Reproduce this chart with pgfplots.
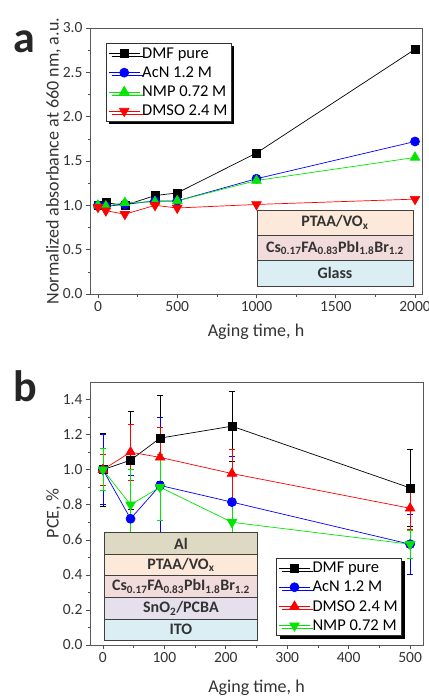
\documentclass[border=0pt]{standalone}
\usepackage{pgfplots}
\pgfplotsset{compat=1.18}
\usepackage{fontspec}
\setmainfont{Carlito}
\usetikzlibrary{shadows}
\definecolor{cAl}{RGB}{221,217,195}
\definecolor{cPT}{RGB}{253,233,217}
\definecolor{cCs}{RGB}{242,220,219}
\definecolor{cSn}{RGB}{229,224,236}
\definecolor{cIT}{RGB}{218,238,243}
\definecolor{gBlue}{RGB}{0,0,255}
\definecolor{gGreen}{RGB}{0,230,0}
\definecolor{gRed}{RGB}{255,0,0}
\tikzset{
  lyr/.style={draw=black!75, line width=0.8pt},
  ltext/.style={font=\bfseries\fontsize{16}{16}\selectfont, text=black!80},
}
\pgfplotsset{
  myax/.style={
    scale only axis,
    axis line style={black!65, line width=0.8pt},
    tick pos=left, tick align=outside, minor tick num=1,
    tick style={black!70, line width=0.6pt},
    major tick length=4pt, minor tick length=2.5pt,
    ticklabel style={font=\fontsize{15.5}{15.5}\selectfont, text=black!80},
    label style={font=\fontsize{18}{18}\selectfont, text=black!80},
    ylabel shift=-5pt,
    /pgf/number format/assume math mode=true,
    /pgf/number format/1000 sep={},
    legend cell align=left,
    legend style={font=\fontsize{16.5}{16.5}\selectfont, draw=black!80, line width=0.6pt,
      fill=white, inner sep=2pt, row sep=3pt,
      drop shadow={shadow xshift=3pt, shadow yshift=-3pt, fill=black, opacity=1}},
    legend image code/.code={\draw[mark repeat=2,mark phase=2] plot coordinates {(0cm,0cm) (0.55cm,0cm) (1.1cm,0cm)};},
    every axis plot/.append style={line width=0.7pt},
  },
  sDMF/.style={black, mark=square*, mark size=4pt, mark options={fill=black, solid}},
  sAcN/.style={gBlue, mark=*, mark size=4.5pt, mark options={fill=gBlue, solid}},
  sNMP/.style={gGreen, mark=triangle*, mark size=5.5pt, mark options={fill=gGreen, solid}},
  sNMPd/.style={gGreen, mark=triangle*, mark size=5.5pt, mark options={fill=gGreen, solid, rotate=180}},
  sDMSO/.style={gRed, mark=triangle*, mark size=5.5pt, mark options={fill=gRed, solid}},
  sDMSOd/.style={gRed, mark=triangle*, mark size=5.5pt, mark options={fill=gRed, solid, rotate=180}},
  eb/.style={error bars/.cd, y dir=both, y explicit, error bar style={line width=0.7pt}, error mark options={rotate=90, mark size=3pt, line width=0.7pt}},
}
\begin{document}
\begin{tikzpicture}
\path[use as bounding box] (0pt,0pt) rectangle (428pt,-698pt);
\node[font=\bfseries\fontsize{44}{44}\selectfont, text=black!85] at (24pt,-42pt) {a};
\node[font=\bfseries\fontsize{44}{44}\selectfont, text=black!85] at (25pt,-386pt) {b};

\begin{axis}[myax, at={(90pt,-294pt)}, anchor=south west,
  width=332pt, height=266pt,
  xmin=-50, xmax=2044, ymin=0, ymax=3,
  xtick={0,500,...,2000}, ytick={0,0.5,...,3},
  yticklabel style={/pgf/number format/.cd, fixed, fixed zerofill, precision=1},
  xlabel={Aging time, h}, xlabel style={yshift=-5pt},
  ylabel={Normalized absorbance at 660 nm, a.u.},
  legend style={at={(0.048,0.943)}, anchor=north west}]
\addplot[sDMF] coordinates {(0,1.0)(50,1.03)(170,1.0)(360,1.11)(500,1.14)(1000,1.59)(2000,2.76)};
\addlegendentry{DMF pure}
\addplot[sAcN] coordinates {(0,1.0)(50,0.99)(170,1.01)(360,1.05)(500,1.05)(1000,1.30)(2000,1.72)};
\addlegendentry{AcN 1.2 M}
\addplot[sNMP] coordinates {(0,1.0)(50,0.99)(170,1.03)(360,1.04)(500,1.05)(1000,1.28)(2000,1.54)};
\addlegendentry{NMP 0.72 M}
\addplot[sDMSOd] coordinates {(0,0.98)(50,0.94)(170,0.90)(360,1.0)(500,0.97)(1000,1.01)(2000,1.07)};
\addlegendentry{DMSO 2.4 M}
\draw[lyr, fill=cIT] (axis cs:1003,0.091) rectangle (axis cs:1987,0.374) node[midway, ltext] {Glass};
\draw[lyr, fill=cCs] (axis cs:1003,0.374) rectangle (axis cs:1987,0.665) node[midway, ltext] {Cs\textsubscript{0.17}FA\textsubscript{0.83}PbI\textsubscript{1.8}Br\textsubscript{1.2}};
\draw[lyr, fill=cPT] (axis cs:1003,0.665) rectangle (axis cs:1987,0.948) node[midway, ltext] {PTAA/VO\textsubscript{x}};
\end{axis}

\begin{axis}[myax, at={(90pt,-645pt)}, anchor=south west,
  width=333pt, height=263pt,
  xmin=-21, xmax=521, ymin=0, ymax=1.5,
  xtick={0,100,...,500}, ytick={0,0.2,...,1.4},
  yticklabel style={/pgf/number format/.cd, fixed, fixed zerofill, precision=1},
  xlabel={Aging time, h}, xlabel style={yshift=-10pt},
  ylabel={PCE, \%},
  legend style={at={(0.937,0.034)}, anchor=south east}]
\addplot[sDMF, eb] coordinates {(0,1.0) +- (0,0.21) (45,1.054) +- (0,0.28) (93,1.18) +- (0,0.245) (210,1.248) +- (0,0.20) (500,0.896) +- (0,0.22)};
\addlegendentry{DMF pure}
\addplot[sAcN, eb] coordinates {(0,1.0) +- (0,0.20) (45,0.72) +- (0,0.25) (93,0.91) +- (0,0.39) (210,0.815) +- (0,0.26) (500,0.575) +- (0,0.17)};
\addlegendentry{AcN 1.2 M}
\addplot[sDMSO, eb] coordinates {(0,1.0) +- (0,0.09) (45,1.10) +- (0,0.16) (93,1.07) +- (0,0.17) (210,0.978) +- (0,0.14) (500,0.78) +- (0,0.12)};
\addlegendentry{DMSO 2.4 M}
\addplot[sNMPd, eb] coordinates {(0,1.0) +- (0,0.12) (45,0.80) +- (0,0.20) (93,0.90) +- (0,0.19) (210,0.70) +- (0,0.13) (500,0.575) +- (0,0.08)};
\addlegendentry{NMP 0.72 M}
\draw[lyr, fill=cIT] (axis cs:3,0.028) rectangle (axis cs:251,0.146) node[midway, ltext] {ITO};
\draw[lyr, fill=cSn] (axis cs:3,0.146) rectangle (axis cs:251,0.272) node[midway, ltext] {SnO\textsubscript{2}/PCBA};
\draw[lyr, fill=cCs] (axis cs:3,0.272) rectangle (axis cs:251,0.395) node[midway, ltext] {Cs\textsubscript{0.17}FA\textsubscript{0.83}PbI\textsubscript{1.8}Br\textsubscript{1.2}};
\draw[lyr, fill=cPT] (axis cs:3,0.395) rectangle (axis cs:251,0.517) node[midway, ltext] {PTAA/VO\textsubscript{x}};
\draw[lyr, fill=cAl] (axis cs:3,0.517) rectangle (axis cs:251,0.640) node[midway, ltext] {Al};
\end{axis}
\end{tikzpicture}
\end{document}
